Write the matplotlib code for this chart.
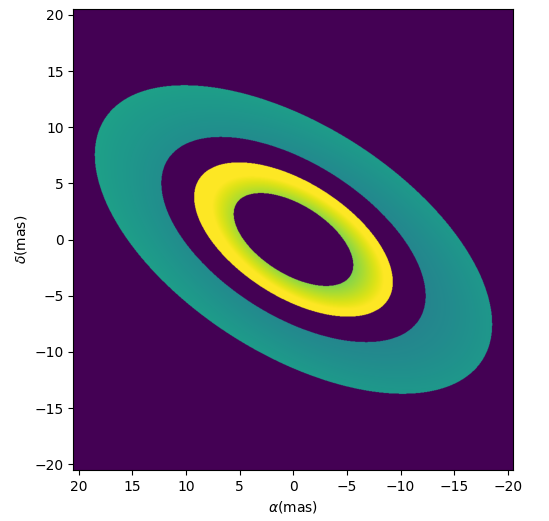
import numpy as np
import matplotlib
matplotlib.use("Agg")
import matplotlib.pyplot as plt

# field of view (mas) and grid size
fov = 20.5
npix = 1000

# disk geometry: position angle of major axis (deg, from +alpha) and axis ratio
pa_deg = 30.6
axis_ratio = 0.5

# rings: inner/outer semi-major radii (mas)
ring_in = [6.2, 13.7]
ring_out = [10.3, 20.6]
# brightness at inner edge, gain across the ring, asymmetry along major axis
ring_base = [0.84, 0.47]
ring_gain = [0.24, 0.08]
ring_asym = [0.03, 0.02]

# build the model image
coords = np.linspace(-fov, fov, npix)
x, y = np.meshgrid(coords[::-1], coords)
th = np.deg2rad(pa_deg)
u = x * np.cos(th) + y * np.sin(th)
v = -x * np.sin(th) + y * np.cos(th)
r = np.sqrt(u**2 + (v / axis_ratio)**2)
cphi = u / np.maximum(r, 1e-6)

img = np.zeros_like(r)
for rin, rout, b, g, a in zip(ring_in, ring_out, ring_base, ring_gain, ring_asym):
    m = (r >= rin) & (r <= rout)
    t = (r - rin) / (rout - rin)
    val = np.clip(b + g * t + a * cphi, 0, 1)
    img[m] = val[m]

fig = plt.figure(figsize=(5.49, 5.21), dpi=100)
ax = fig.add_axes([0.1335, 0.098, 0.8015, 0.8843])
ax.imshow(img, origin="lower", extent=[fov, -fov, -fov, fov],
          cmap="viridis", vmin=0, vmax=1, aspect="auto",
          interpolation="antialiased")
ax.set_xticks([20, 15, 10, 5, 0, -5, -10, -15, -20])
ax.set_yticks([20, 15, 10, 5, 0, -5, -10, -15, -20])
ax.set_xlabel(r"$\alpha$(mas)")
ax.set_ylabel(r"$\delta$(mas)")

fig.savefig("out.png", dpi=100)
